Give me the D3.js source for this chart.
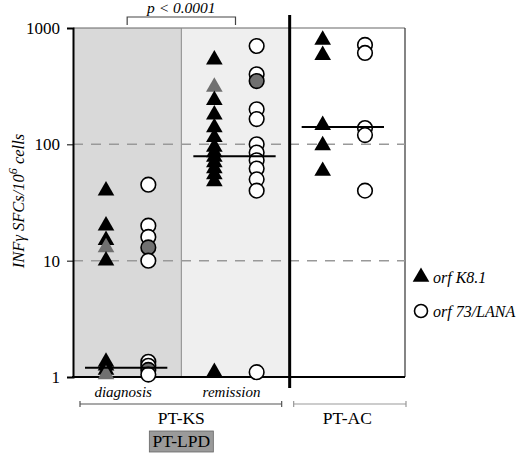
<!DOCTYPE html>
<html>
<head>
<meta charset="utf-8">
<script src="https://cdn.jsdelivr.net/npm/d3@7"></script>
<style>
  body { margin: 0; background: #fff; }
  svg text { font-family: "Liberation Serif", "Times New Roman", serif; }
</style>
</head>
<body>
<div id="chart"></div>
<script>
// groups (panels) and series
var groups = ["diagnosis", "remission", "AC"];
var series = ["K8.1", "LANA"];
var yTicks = [1, 10, 100, 1000];

// values (SFCs / 10^6 cells)
var diagK81 = [40, 20, 15, 13, 10, 1.35, 1.25, 1.15, 1.05];
var diagLANA = [45, 20, 16, 13, 10, 1.35, 1.25, 1.15, 1.05];
var remK81 = [535, 312, 240, 180, 140, 115, 95, 85, 78, 70, 62, 55, 48, 1.1];
var remLANA = [700, 400, 350, 200, 165, 100, 85, 73, 62, 50, 40, 1.1];
var acK81 = [790, 585, 146, 98, 59];
var acLANA = [715, 610, 138, 120, 40];

// grey (highlighted) points: [group, series, value]
var greyPoints = [["diagnosis", "K8.1", 13], ["diagnosis", "K8.1", 1.05],
                  ["diagnosis", "LANA", 13], ["diagnosis", "LANA", 1.15],
                  ["remission", "K8.1", 312], ["remission", "LANA", 350]];

var medians = [1.2, 79, 141];

function drawChart() {
    var W = 520, H = 455;
    var pLeft = 73, pRight = 405, pTop = 28, pBottom = 377;
    var serif = "'Liberation Serif', 'Times New Roman', serif";

    var svg = d3.select("#chart").append("svg")
        .attr("width", W).attr("height", H);

    var y = d3.scaleLog().domain([1, 1000]).range([pBottom, pTop]);
    var x = d3.scaleBand().domain(groups).range([pLeft, 398]).padding(0);
    var xSub = d3.scalePoint().domain(series).range([0, x.bandwidth()]).padding(0.78);

    // panel backgrounds
    svg.append("rect").attr("x", x("diagnosis")).attr("y", pTop)
        .attr("width", x.bandwidth()).attr("height", pBottom - pTop).attr("fill", "#d9d9d9");
    svg.append("rect").attr("x", x("remission")).attr("y", pTop)
        .attr("width", x.bandwidth()).attr("height", pBottom - pTop).attr("fill", "#efefef");

    // frame
    svg.append("line").attr("x1", pLeft).attr("x2", pRight).attr("y1", pTop).attr("y2", pTop)
        .attr("stroke", "#666").attr("stroke-width", 1.2);
    svg.append("line").attr("x1", pRight).attr("x2", pRight).attr("y1", pTop).attr("y2", pBottom)
        .attr("stroke", "#333").attr("stroke-width", 1.2);
    svg.append("line").attr("x1", x("remission")).attr("x2", x("remission")).attr("y1", pTop).attr("y2", pBottom)
        .attr("stroke", "#888").attr("stroke-width", 1);

    // dashed grid at 10 and 100
    svg.selectAll(".grid").data([10, 100]).enter().append("line")
        .attr("x1", pLeft).attr("x2", pRight)
        .attr("y1", function (d) { return y(d); }).attr("y2", function (d) { return y(d); })
        .attr("stroke", "#999").attr("stroke-width", 1.5).attr("stroke-dasharray", "10,8");

    // Y axis
    var yAxis = svg.append("g").attr("transform", "translate(" + pLeft + ",0)")
        .call(d3.axisLeft(y).tickValues(yTicks).tickFormat(d3.format("d")).tickSize(6).tickPadding(7));
    yAxis.select(".domain").attr("stroke", "#000").attr("stroke-width", 2);
    yAxis.selectAll("text").attr("font-size", "17px").attr("fill", "#000")
        .attr("font-family", serif);

    // bottom axis line
    svg.append("line").attr("x1", pLeft - 1).attr("x2", pRight).attr("y1", pBottom).attr("y2", pBottom)
        .attr("stroke", "#000").attr("stroke-width", 2);

    // thick separator
    svg.append("line").attr("x1", x("AC")).attr("x2", x("AC")).attr("y1", 15).attr("y2", 388)
        .attr("stroke", "#000").attr("stroke-width", 3);

    // points
    function isGrey(g, s, v) {
        return greyPoints.some(function (p) { return p[0] == g && p[1] == s && p[2] == v; });
    }
    var pointData = [];
    function addPoints(g, s, arr) {
        arr.forEach(function (v) { pointData.push({ g: g, s: s, v: v, grey: isGrey(g, s, v) }); });
    }
    addPoints("diagnosis", "K8.1", diagK81);
    addPoints("diagnosis", "LANA", diagLANA);
    addPoints("remission", "K8.1", remK81);
    addPoints("remission", "LANA", remLANA);
    addPoints("AC", "K8.1", acK81);
    addPoints("AC", "LANA", acLANA);

    var tri = d3.symbol().type(d3.symbolTriangle).size(120);

    svg.append("g").selectAll("path").data(pointData.filter(function (d) { return d.s == "K8.1"; }))
        .enter().append("path")
        .attr("d", tri)
        .attr("transform", function (d) { return "translate(" + (x(d.g) + xSub(d.s)) + "," + y(d.v) + ")"; })
        .attr("fill", function (d) { return d.grey ? "#707070" : "#000"; });

    svg.append("g").selectAll("circle").data(pointData.filter(function (d) { return d.s == "LANA"; }))
        .enter().append("circle")
        .attr("cx", function (d) { return x(d.g) + xSub(d.s); })
        .attr("cy", function (d) { return y(d.v); })
        .attr("r", 7.3)
        .attr("fill", function (d) { return d.grey ? "#707070" : "#fff"; })
        .attr("stroke", "#000").attr("stroke-width", 1.6);

    // median lines
    svg.append("g").selectAll("line").data(medians).enter().append("line")
        .attr("x1", function (d, i) { return x(groups[i]) + xSub("K8.1") - 21; })
        .attr("x2", function (d, i) { return x(groups[i]) + xSub("LANA") + 19; })
        .attr("y1", function (d) { return y(d); }).attr("y2", function (d) { return y(d); })
        .attr("stroke", "#000").attr("stroke-width", 2);

    // p-value bracket
    var bx1 = x("diagnosis") + x.bandwidth() / 2, bx2 = x("remission") + x.bandwidth() / 2;
    svg.append("path")
        .attr("d", "M" + bx1 + ",25V17H" + bx2 + "V25")
        .attr("fill", "none").attr("stroke", "#444").attr("stroke-width", 1.2);
    svg.append("text").attr("x", (bx1 + bx2) / 2).attr("y", 13)
        .attr("text-anchor", "middle").attr("font-size", "15.5px").attr("font-style", "italic")
        .attr("font-family", serif)
        .text("p < 0.0001");

    // Y label
    svg.append("text")
        .attr("transform", "translate(24,201) rotate(-90)")
        .attr("text-anchor", "middle").attr("font-size", "16.5px").attr("font-style", "italic")
        .attr("font-family", serif)
        .html("INFγ SFCs/10<tspan dy='-7' font-size='12px'>6</tspan><tspan dy='7'> cells</tspan>");

    // phase labels
    svg.selectAll(".phase").data(["diagnosis", "remission"]).enter().append("text")
        .attr("x", function (d) { return x(d) + x.bandwidth() / 2 - 4; })
        .attr("y", 397).attr("text-anchor", "middle").attr("font-family", serif)
        .attr("font-size", "15px").attr("font-style", "italic").text(function (d) { return d; });

    // group brackets
    function bracket(x1, x2, col) {
        svg.append("path")
            .attr("d", "M" + x1 + ",401V407M" + x1 + ",404H" + x2 + "M" + x2 + ",401V407")
            .attr("fill", "none").attr("stroke", col).attr("stroke-width", 1.2);
    }
    bracket(x("diagnosis") + 7, x("AC") - 8, "#555");
    bracket(x("AC") + 4, pRight + 1, "#999");

    svg.append("text").attr("x", x("remission")).attr("y", 424).attr("text-anchor", "middle")
        .attr("font-family", serif).attr("font-size", "17.5px").text("PT-KS");
    svg.append("text").attr("x", x("AC") + (pRight - x("AC")) / 2).attr("y", 424).attr("text-anchor", "middle")
        .attr("font-family", serif).attr("font-size", "17.5px").text("PT-AC");

    svg.append("rect").attr("x", x("remission") - 32).attr("y", 431).attr("width", 64).attr("height", 21)
        .attr("fill", "#9a9a9a").attr("stroke", "#666").attr("stroke-width", 0.8);
    svg.append("text").attr("x", x("remission")).attr("y", 447).attr("text-anchor", "middle")
        .attr("font-family", serif).attr("font-size", "17.5px").text("PT-LPD");

    // legend
    var legend = svg.append("g").attr("transform", "translate(421,277)");
    legend.append("path").attr("d", tri).attr("fill", "#000");
    legend.append("text").attr("x", 12).attr("y", 6).attr("font-size", "16px").attr("font-style", "italic")
        .attr("font-family", serif).text("orf K8.1");
    legend.append("circle").attr("cx", 0).attr("cy", 34).attr("r", 6.5)
        .attr("fill", "#fff").attr("stroke", "#000").attr("stroke-width", 1.6);
    legend.append("text").attr("x", 12).attr("y", 40).attr("font-size", "16px").attr("font-style", "italic")
        .attr("font-family", serif).text("orf 73/LANA");
}

drawChart();
</script>
</body>
</html>
